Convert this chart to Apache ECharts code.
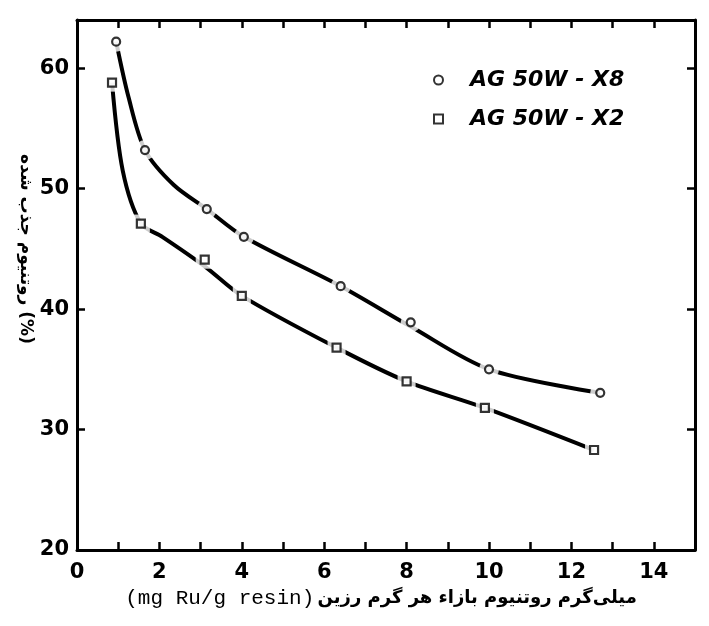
<!DOCTYPE html>
<html>
<head>
<meta charset="utf-8">
<script src="https://cdn.jsdelivr.net/npm/echarts@6/dist/echarts.min.js"></script>
<style>html,body{margin:0;padding:0;background:#fff}#c{width:709px;height:626px}</style>
</head>
<body>
<div id="c"></div>
<script>
const xX8 = [0.95, 1.65, 3.15, 4.05, 6.4, 8.1, 10.0, 12.7];
const yX8 = [62.2, 53.2, 48.3, 46.0, 41.9, 38.9, 35.0, 33.05];
const xX2 = [0.85, 1.55, 3.1, 4.0, 6.3, 8.0, 9.9, 12.55];
const yX2 = [58.8, 47.1, 44.1, 41.1, 36.8, 34.0, 31.8, 28.3];
// Fitted curves, points read along the drawn lines of the reference
const curveX8x = [0.95, 1.25, 1.65, 2.35, 3.15, 4.05, 6.4, 8.1, 10.0, 12.7];
const curveX8y = [62.2, 57.6, 53.2, 50.3, 48.3, 46.0, 41.9, 38.55, 35.0, 33.05];
const curveX2x = [0.85, 1.11, 1.55, 2.07, 3.1, 4.0, 6.3, 8.0, 9.9, 12.55];
const curveX2y = [58.8, 51.5, 47.1, 46.0, 43.55, 41.1, 36.8, 34.0, 31.8, 28.3];
const seriesNames = ['AG 50W - X8', 'AG 50W - X2'];
const yTicks = [20, 30, 40, 50, 60];
const xTitleLatin = '(mg Ru/g resin)';
const xTitlePersian = 'میلی‌گرم روتنیوم بازاء هر گرم رزین';
const yTitle = 'روتنیوم جذب شده (%)';

const pts = (xs, ys) => xs.map((x, i) => [x, ys[i]]);
const d8 = pts(xX8, yX8), d2 = pts(xX2, yX2);
const c8 = pts(curveX8x, curveX8y), c2 = pts(curveX2x, curveX2y);

const F = 'DejaVu Sans';
const lineAx = { onZero: false, lineStyle: { color: '#000', width: 3 } };
const tickIn = { inside: true, length: 8, lineStyle: { color: '#000', width: 2.5 } };
const yTickIn = Object.assign({}, tickIn, { customValues: yTicks });

const chart = echarts.init(document.getElementById('c'), null, { renderer: 'canvas' });
chart.setOption({
  animation: false,
  backgroundColor: '#fff',
  grid: { left: 77, right: 14, top: 20, bottom: 76 },
  legend: {
    data: seriesNames,
    orient: 'vertical',
    left: 428, top: 64,
    itemWidth: 9, itemHeight: 9, itemGap: 17,
    textStyle: { fontFamily: F, fontSize: 22, fontWeight: 'bold', fontStyle: 'italic', color: '#000', padding: [0, 0, 0, 22] }
  },
  xAxis: [{
    type: 'value', min: 0, max: 15, interval: 1, position: 'bottom',
    axisLine: lineAx, axisTick: tickIn, splitLine: { show: false },
    axisLabel: { margin: 12, color: '#000', fontFamily: F, fontSize: 21, fontWeight: 'bold',
      formatter: v => (v % 2 === 0 && v < 15) ? String(v) : '' },
    name: '{a|' + xTitleLatin + '} {b|' + xTitlePersian + '}',
    nameLocation: 'middle', nameGap: 38,
    nameTextStyle: { padding: [0, 10, 0, 0], rich: {
      a: { fontFamily: 'Liberation Mono', fontSize: 21, color: '#000' },
      b: { fontFamily: F, fontSize: 18, fontWeight: 'bold', color: '#000' }
    } }
  }, {
    type: 'value', min: 0, max: 15, interval: 1, position: 'top',
    axisLine: lineAx, axisTick: tickIn, axisLabel: { show: false }, splitLine: { show: false }
  }],
  yAxis: [{
    type: 'value', min: 20, max: 64, interval: 10, position: 'left',
    axisLine: lineAx, axisTick: yTickIn, splitLine: { show: false },
    axisLabel: { margin: 8, color: '#000', fontFamily: F, fontSize: 21, fontWeight: 'bold',
      customValues: yTicks, formatter: v => (v % 10 === 0) ? String(v) : '' }
  }, {
    type: 'value', min: 20, max: 64, interval: 10, position: 'right',
    axisLine: lineAx, axisTick: yTickIn, axisLabel: { show: false }, splitLine: { show: false }
  }],
  graphic: [{
    type: 'text', x: 25, y: 249, rotation: -Math.PI / 2,
    style: { text: yTitle, fontFamily: F, fontSize: 17, fontWeight: 'bold', fill: '#000',
      align: 'center', verticalAlign: 'middle' }
  }],
  series: [
    { type: 'line', data: c8, smooth: 0.3, showSymbol: false, symbol: 'none',
      lineStyle: { color: '#000', width: 4 }, z: 2, silent: true },
    { type: 'line', data: c2, smooth: 0.3, showSymbol: false, symbol: 'none',
      lineStyle: { color: '#000', width: 4 }, z: 2, silent: true },
    { type: 'scatter', data: d8, symbol: 'circle', symbolSize: 20, itemStyle: { color: '#fff' }, z: 3, silent: true },
    { type: 'scatter', data: d2, symbol: 'rect', symbolSize: 18, itemStyle: { color: '#fff' }, z: 3, silent: true },
    { name: seriesNames[0], type: 'scatter', data: d8, symbol: 'circle', symbolSize: 8,
      itemStyle: { color: '#fff', borderColor: '#000', borderWidth: 2.2 }, z: 4 },
    { name: seriesNames[1], type: 'scatter', data: d2, symbol: 'rect', symbolSize: 8,
      itemStyle: { color: '#fff', borderColor: '#000', borderWidth: 2.2 }, z: 4 }
  ]
});
</script>
</body>
</html>
